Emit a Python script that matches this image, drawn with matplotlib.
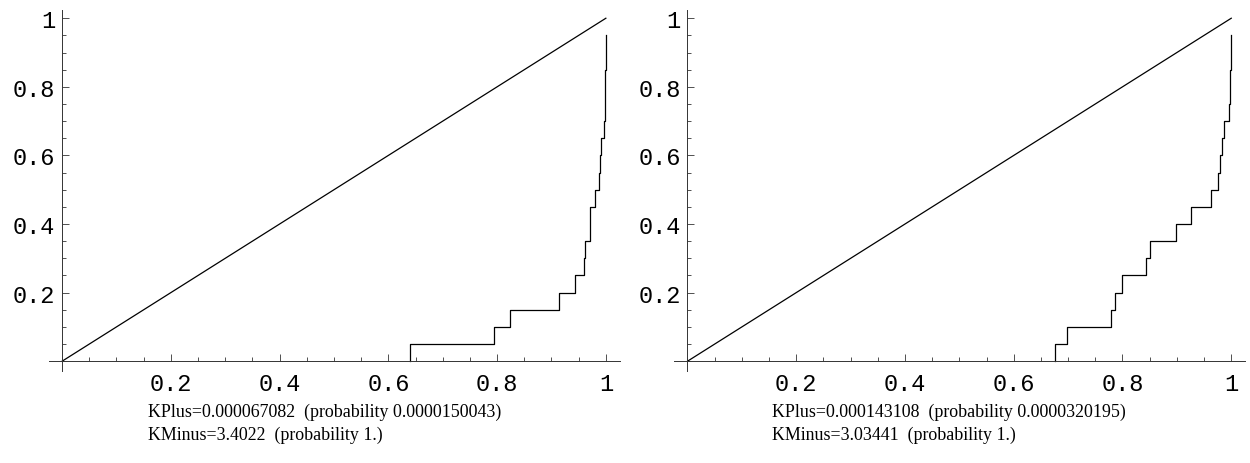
import matplotlib
matplotlib.use("Agg")
import matplotlib.pyplot as plt
from matplotlib.ticker import FixedLocator, MultipleLocator

# step levels of the empirical distribution
levels = [0.05, 0.10, 0.15, 0.20, 0.25, 0.30, 0.35, 0.40, 0.45, 0.50,
          0.55, 0.60, 0.65, 0.70, 0.75, 0.80, 0.85, 0.90, 0.95]

# x position of each jump
left_jumps = [0.639, 0.794, 0.824, 0.914, 0.943, 0.960, 0.962, 0.970, 0.971, 0.980,
              0.988, 0.990, 0.991, 0.997, 0.998, 0.9985, 0.999, 0.9995, 0.9999]
right_jumps = [0.675, 0.698, 0.779, 0.787, 0.799, 0.844, 0.850, 0.899, 0.926, 0.963,
               0.976, 0.980, 0.983, 0.987, 0.995, 0.9976, 0.9985, 0.9992, 0.9997]

diag = [0.0, 1.0]

tick_vals = [0.2, 0.4, 0.6, 0.8, 1.0]
tick_labels = ["0.2", "0.4", "0.6", "0.8", "1"]

left_text = ["KPlus=0.000067082  (probability 0.0000150043)",
             "KMinus=3.4022  (probability 1.)"]
right_text = ["KPlus=0.000143108  (probability 0.0000320195)",
              "KMinus=3.03441  (probability 1.)"]

W, H = 1250, 464
fig = plt.figure(figsize=(W / 100, H / 100), dpi=100)


def panel(left_px, jumps, lines, text_x):
    ax = fig.add_axes([left_px / W, 92.5 / H, 571 / W, 360.5 / H])
    ax.plot(diag, diag, color="black", lw=0.9)
    ax.step([jumps[0]] + jumps, [0.0] + levels, where="post", color="black", lw=0.9)
    ax.set_xlim(-0.024, 1.026)
    ax.set_ylim(-0.027, 1.024)
    for s in ["top", "right"]:
        ax.spines[s].set_visible(False)
    for s in ["left", "bottom"]:
        ax.spines[s].set_position(("data", 0))
        ax.spines[s].set_linewidth(0.7)
        ax.spines[s].set_color("#333333")
    for axis in (ax.xaxis, ax.yaxis):
        axis.set_major_locator(FixedLocator(tick_vals))
        axis.set_minor_locator(MultipleLocator(0.05))
    ax.set_xticklabels(tick_labels)
    ax.set_yticklabels(tick_labels)
    ax.tick_params(which="both", direction="in", width=0.6, color="#333333")
    ax.tick_params(which="major", length=5)
    ax.tick_params(which="minor", length=3)
    ax.tick_params(axis="x", pad=7.5)
    ax.tick_params(axis="y", pad=5)
    for lab in ax.get_xticklabels() + ax.get_yticklabels():
        lab.set_fontfamily("Liberation Mono")
        lab.set_fontsize(17)
    fig.text(text_x / W, 1 - 417 / H, lines[0], family="Liberation Serif",
             fontsize=12.9, va="baseline")
    fig.text(text_x / W, 1 - 440 / H, lines[1], family="Liberation Serif",
             fontsize=12.9, va="baseline")


panel(49, left_jumps, left_text, 148)
panel(674.4, right_jumps, right_text, 772)

fig.savefig("out.png", dpi=100)
